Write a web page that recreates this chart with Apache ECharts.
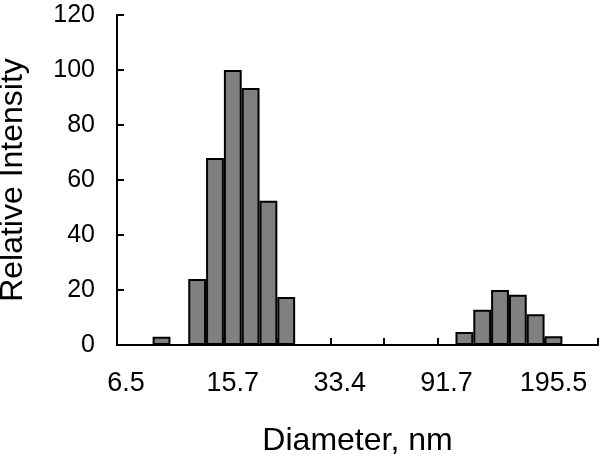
<!DOCTYPE html>
<html>
<head>
<meta charset="utf-8">
<script src="https://cdn.jsdelivr.net/npm/echarts@6/dist/echarts.min.js"></script>
<style>
  html, body { margin: 0; padding: 0; background: #fff; }
  #chart { width: 600px; height: 457px; }
</style>
</head>
<body>
<div id="chart"></div>
<script>
// diameter bins (nm), log spaced; only every 6th one is labelled
var diameters = ['6.5', '7.5', '8.7', '10.1', '11.7', '13.6',
                 '15.7', '17.8', '20.2', '22.9', '26.0', '29.5',
                 '33.4', '39.5', '46.8', '55.3', '65.5', '77.5',
                 '91.7', '104.0', '118.0', '133.9', '151.9', '172.3',
                 '195.5', '221.8', '251.6'];
var intensity = [0, 0, 3, 0, 24, 68,
                 100, 93.5, 52.5, 17.5, 0, 0,
                 0, 0, 0, 0, 0, 0,
                 0, 4.7, 12.8, 20, 18.3, 11.2,
                 3.2, 0, 0];
// bins with a tick mark on their left edge
var tickBins = [0, 6, 9, 12, 15, 18, 21, 24];
var yTicks = [0, 20, 40, 60, 80, 100, 120];

var font = 'Liberation Sans, Arial, sans-serif';
var chart = echarts.init(document.getElementById('chart'));
chart.setOption({
  animation: false,
  grid: { left: 117, right: 2, top: 15, bottom: 112, outerBoundsMode: 'none' },
  xAxis: {
    type: 'category',
    data: diameters,
    name: 'Diameter, nm',
    nameLocation: 'middle',
    nameGap: 80,
    nameTextStyle: { color: '#000', fontSize: 32, fontFamily: font },
    axisLine: { lineStyle: { color: '#000', width: 2 } },
    axisTick: {
      show: true, inside: true, length: 7,
      interval: function (i) { return tickBins.indexOf(i) >= 0; },
      lineStyle: { color: '#000', width: 2 }
    },
    axisLabel: { interval: 5, margin: 25, color: '#000', fontSize: 27, fontFamily: font }
  },
  yAxis: {
    type: 'value',
    min: yTicks[0], max: yTicks[yTicks.length - 1], interval: 20,
    name: 'Relative Intensity',
    nameLocation: 'middle',
    nameGap: 88,
    nameTextStyle: { color: '#000', fontSize: 32, fontFamily: font },
    axisLine: { show: true, lineStyle: { color: '#000', width: 2 } },
    axisTick: { show: true, inside: true, length: 7, lineStyle: { color: '#000', width: 2 } },
    axisLabel: { margin: 22, color: '#000', fontSize: 25, fontFamily: font },
    splitLine: { show: false }
  },
  series: [{
    type: 'bar',
    data: intensity,
    barCategoryGap: 0,
    itemStyle: { color: '#808080', borderColor: '#000', borderWidth: 2 }
  }]
});
</script>
</body>
</html>
